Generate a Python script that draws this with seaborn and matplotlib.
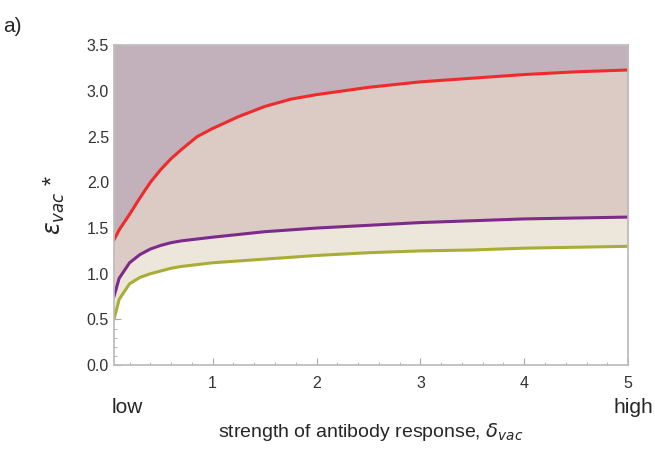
import matplotlib
matplotlib.use('Agg')
import matplotlib.pyplot as plt
import seaborn as sns
from matplotlib.ticker import MultipleLocator, FormatStrFormatter

sns.set_theme(style='white')
plt.rcParams['font.family'] = ['Liberation Sans', 'DejaVu Sans']

# curves
x = [0.05, 0.1, 0.2, 0.3, 0.4, 0.5, 0.6, 0.7, 0.85, 1.0, 1.25, 1.5, 1.75, 2.0, 2.5, 3.0, 3.5, 4.0, 4.5, 5.0]
red = [1.37, 1.48, 1.65, 1.83, 2.0, 2.14, 2.26, 2.36, 2.5, 2.59, 2.72, 2.83, 2.91, 2.96, 3.04, 3.1, 3.14, 3.18, 3.21, 3.23]
purple = [0.75, 0.95, 1.12, 1.21, 1.27, 1.31, 1.34, 1.36, 1.38, 1.4, 1.43, 1.46, 1.48, 1.5, 1.53, 1.56, 1.58, 1.6, 1.61, 1.62]
olive = [0.5, 0.72, 0.89, 0.96, 1.0, 1.03, 1.06, 1.08, 1.1, 1.12, 1.14, 1.16, 1.18, 1.2, 1.23, 1.25, 1.26, 1.28, 1.29, 1.3]

fig, ax = plt.subplots(figsize=(6.55, 4.53), dpi=100)
fig.subplots_adjust(left=0.174, right=0.959, top=0.9, bottom=0.194)

ax.fill_between(x, red, 3.5, color='#c2b0bb', lw=0)
ax.fill_between(x, purple, red, color='#dccbc4', lw=0)
ax.fill_between(x, olive, purple, color='#ece7da', lw=0)

sns.lineplot(x=x, y=red, color='#f02a2a', lw=2.2, ax=ax)
sns.lineplot(x=x, y=purple, color='#7d2a8a', lw=2.2, ax=ax)
sns.lineplot(x=x, y=olive, color='#a9ad35', lw=2.2, ax=ax)

ax.set_xlim(0.05, 5)
ax.set_ylim(0, 3.5)
ax.xaxis.set_major_locator(MultipleLocator(1))
ax.xaxis.set_minor_locator(MultipleLocator(0.2))
ax.yaxis.set_major_locator(MultipleLocator(0.5))
ax.yaxis.set_minor_locator(MultipleLocator(0.1))
ax.yaxis.set_major_formatter(FormatStrFormatter('%.1f'))
ax.tick_params(which='both', direction='in', bottom=True, left=True, color='#aaaaaa',
               labelsize=11.5, labelcolor='#333333')
ax.tick_params(which='major', length=5, width=0.8)
ax.tick_params(which='minor', length=2.5, width=0.6)
ax.tick_params(axis='x', pad=8)
for s in ax.spines.values():
    s.set_color('#bbbbbb')

ax.set_xlabel(r'strength of antibody response, $\delta_{vac}$', fontsize=14)
ax.xaxis.set_label_coords(0.5, -0.175)
ax.set_ylabel(r'$\varepsilon_{\mathit{vac}}$ *', fontsize=17, rotation=90, labelpad=14)
fig.text(0.17, 0.10, 'low', fontsize=15, ha='left', va='center')
fig.text(0.997, 0.10, 'high', fontsize=15, ha='right', va='center')
fig.text(0.005, 0.93, 'a)', fontsize=15)

fig.savefig('out.png', dpi=100)
